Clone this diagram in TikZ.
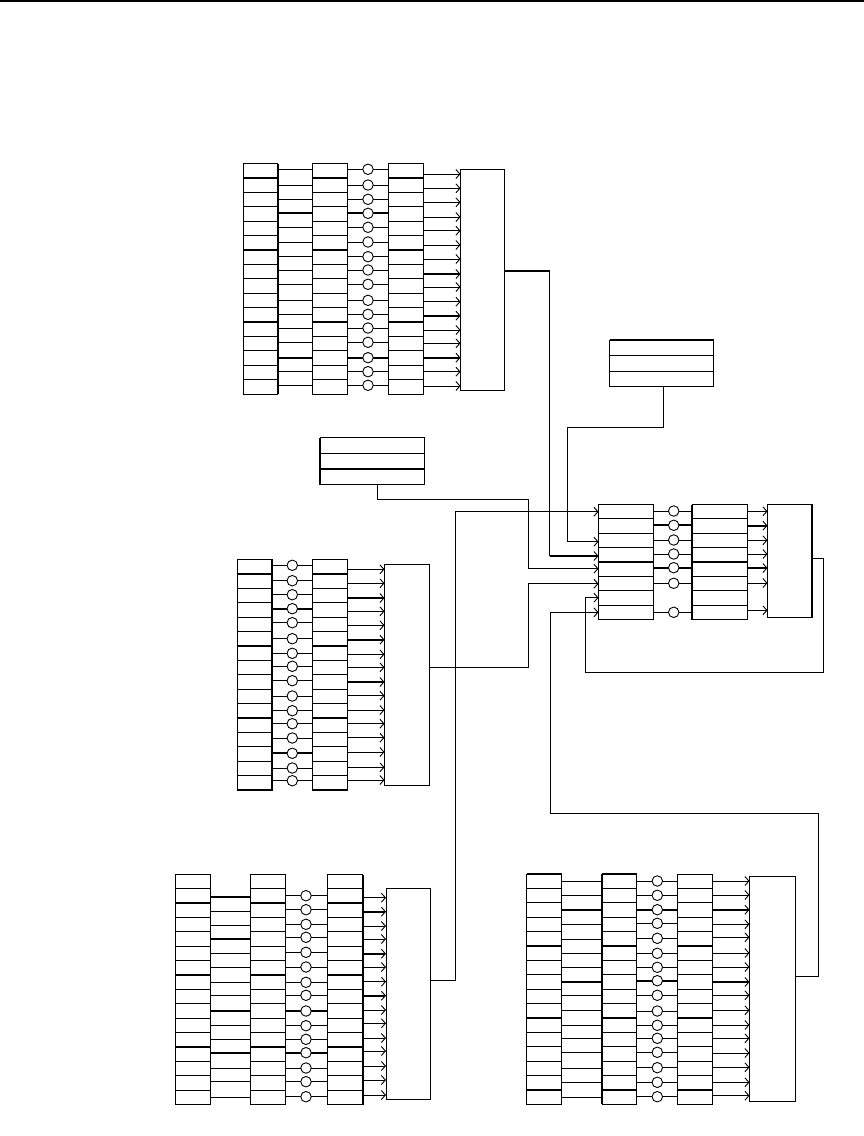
\documentclass[tikz,border=0pt]{standalone}
\usetikzlibrary{arrows.meta}
\tikzset{
  x=1pt,y=-1pt,
  thin line/.style={line width=0.9pt,black},
  heavy/.style={line width=2pt,black},
  colbox/.style={draw=black,fill=white,line width=0.9pt,inner sep=0pt,outer sep=0pt,rectangle},
  ring/.style={circle,draw=black,fill=white,line width=0.9pt,minimum size=10.5pt,inner sep=0pt},
  signal/.style={thin line,-{Straight Barb[length=4pt,width=9pt,line width=0.9pt]}},
  signalheavy/.style={heavy,-{Straight Barb[length=4pt,width=9pt,line width=0.9pt]}},
  wire/.style={thin line,line join=miter},
  wirearrow/.style={wire,-{Straight Barb[length=4pt,width=9pt,line width=0.9pt]}},
}
% name, x1, x2, y1, y2 : a rectangle as a named node with its corners at the given places
\newcommand\RectNode[5]{%
  \pgfmathsetmacro\bw{#3-#2}\pgfmathsetmacro\bh{#5-#4}%
  \pgfmathsetmacro\bx{(#2+#3)/2}\pgfmathsetmacro\by{(#4+#5)/2}%
  \node[colbox,minimum width=\bw pt,minimum height=\bh pt] (#1) at (\bx,\by) {};}
% name, x1, x2, y1, y2, thin dividers, heavy dividers
\newcommand\ColNode[7]{%
  \RectNode{#1}{#2}{#3}{#4}{#5}%
  \foreach \yy in {#6} {\draw[thin line] (#2,\yy) -- (#3,\yy);}%
  \foreach \yy in {#7} {\draw[heavy] (#2,\yy) -- (#3,\yy);}}
% x1, x2, thin rows, heavy rows
\newcommand\LinkRows[4]{%
  \foreach \yy in {#3} {\draw[thin line] (#1,\yy) -- (#2,\yy);}%
  \foreach \yy in {#4} {\draw[heavy] (#1,\yy) -- (#2,\yy);}}
% prefix, x, rows
\newcommand\RingRows[3]{%
  \foreach \yy [count=\ii] in {#3} {\node[ring] (#1\ii) at (#2,\yy) {};}}
% x1, x2, thin rows, heavy rows
\newcommand\ArrowRows[4]{%
  \foreach \yy in {#3} {\draw[signal] (#1,\yy) -- (#2,\yy);}%
  \foreach \yy in {#4} {\draw[signalheavy] (#1,\yy) -- (#2,\yy);}}
\begin{document}
\begin{tikzpicture}
\useasboundingbox (0,0) rectangle (864,1136);
\fill[white] (0,0) rectangle (864,1136);
\fill[black] (0,0) rectangle (864,2);

% ---- group 1 (top)
\ColNode{aA}{243.5}{277.5}{163.5}{394}{192.3,206.3,221.3,235.7,264.7,278.7,293.7,307.7,336.3,350.7,365.3,379.3}{178,250,322}
\draw[heavy] (277.5,163.5) -- (277.5,394);
\ColNode{aB}{312.5}{347.5}{163.5}{394}{192.3,206.3,221.3,235.7,264.7,278.7,293.7,307.7,336.3,350.7,365.3,379.3}{178,250,322}
\ColNode{aC}{388.5}{423.5}{163.5}{394}{192.3,206.3,221.3,235.7,264.7,278.7,293.7,307.7,336.3,350.7,365.3,379.3}{178,250,322}
\LinkRows{278}{312.5}{169.3,185,199.3,227.3,242,256.7,270,284.3,300.3,314.3,328,342.3,371.7,385.3}{213.3,357.7}
\LinkRows{347.5}{388.5}{169.3,185,199.3,227.3,242,256.7,270,284.3,300.3,314.3,328,342.3,371.7,385.3}{213.3,357.7}
\RingRows{ar}{368}{169.3,185,199.3,213.3,227.3,242,256.7,270,284.3,300.3,314.3,328,342.3,357.7,371.7,385.3}
\RectNode{aZ}{460.5}{504.5}{169.5}{390.5}
\ArrowRows{423.5}{460.5}{174,188.3,202.3,217,230.7,245,259,287,301.7,330,343.3,371.7,386}{274,315.7,357.7}

% ---- group 2 (middle left)
\ColNode{bA}{237.5}{272}{559.5}{790}{588.3,602.7,617.3,631.3,660.3,674.7,689.3,703.7,732.3,746.7,761.3,775.3}{574,646,718,790}
\draw[heavy] (272,559.5) -- (272,790);
\ColNode{bB}{312.5}{347.5}{559.5}{790}{588.3,602.7,617.3,631.3,660.3,674.7,689.3,703.7,732.3,746.7,761.3,775.3}{574,646,718,790}
\LinkRows{272}{312.5}{565.3,580.7,594.7,622.7,638.7,653.3,666.3,680.7,696,710.7,723.7,738,768,780.7}{608.7,753.3}
\RingRows{br}{292.3}{565.3,580.7,594.7,608.7,622.7,638.7,653.3,666.3,680.7,696,710.7,723.7,738,753.3,768,780.7}
\RectNode{bZ}{384.5}{429.5}{564.5}{785.5}
\ArrowRows{347.5}{384.5}{569.3,583.3,611.3,625.3,654.3,667.3,695.7,710,723.7,737.7,752,767.3,780}{598,639.7,682}

% ---- group 3 (bottom left)
\ColNode{cA}{175.5}{210.5}{874.5}{1104.5}{888.3,917.3,931.7,946.3,960.7,989.3,1003.3,1018,1032.7,1061.3,1075.3,1090.3}{903,975,1047}
\ColNode{cB}{250.5}{285.5}{874.5}{1104.5}{888.3,917.3,931.7,946.3,960.7,989.3,1003.3,1018,1032.7,1061.3,1075.3,1090.3}{903,975,1047}
\ColNode{cC}{327.5}{362.5}{874.5}{1104.5}{888.3,917.3,931.7,946.3,960.7,989.3,1003.3,1018,1032.7,1061.3,1075.3,1090.3}{903,975,1047}
\draw[heavy] (362.5,874.5) -- (362.5,1104.5);
\LinkRows{210.5}{250.5}{911.7,925.3,953.3,967.3,982.3,995.3,1025.3,1039.3,1068,1081.7,1097.3}{896.7,938.7,1010.7,1052.7}
\LinkRows{285.5}{327.5}{895.7,909.7,924.3,937.3,952.3,967,982.3,995.3,1025.7,1039.3,1068,1081.7,1096.7}{1011,1052.7}
\RingRows{cr}{306}{895.7,909.7,924.3,937.3,952.3,967,982.3,995.3,1011,1025.7,1039.3,1052.7,1068,1081.7,1096.7}
\RectNode{cZ}{386}{430.5}{888.5}{1099}
\ArrowRows{362.5}{386}{897.7,926,939,967,981.7,1010,1023.3,1038,1051,1066,1080,1095}{911.7,953.7,995.7}

% ---- group 4 (bottom right)
\ColNode{dA}{526.5}{561.5}{874}{1104}{888.3,902.7,917.3,931.7,960.3,974.7,989.3,1003.7,1032.3,1046.7,1061.3,1075.7}{874,946,1018,1090}
\ColNode{dB}{602}{636.5}{874}{1104}{888.3,902.7,917.3,931.7,960.3,974.7,989.3,1003.7,1032.3,1046.7,1061.3,1075.7}{874,946,1018,1090}
\draw[heavy] (602,874) -- (602,1104);
\ColNode{dC}{677.5}{712.5}{874}{1104}{888.3,902.7,917.3,931.7,960.3,974.7,989.3,1003.7,1032.3,1046.7,1061.3,1075.7}{946,1018,1090}
\LinkRows{561.5}{602}{881,895.3,924.3,939.3,953.3,967.3,995.3,1010.3,1025.3,1038.3,1052.3,1068.3,1082.3,1097.3}{909.7,982}
\LinkRows{636.5}{677.5}{881,895.3,923.3,938.3,953.3,967.3,995.3,1011,1025.3,1038.3,1052.3,1067.7,1082.3,1096.7}{909.7,980.7}
\RingRows{dr}{657.3}{881,895.3,909.7,923.3,938.3,953.3,967.3,980.7,995.3,1011,1025.3,1038.3,1052.3,1067.7,1082.3,1096.7}
\RectNode{dZ}{749.5}{795.5}{876.5}{1101.5}
\ArrowRows{712.5}{749.5}{881,895,924.3,937.3,953,967,995.3,1010.3,1025,1038.3,1053,1067.3,1082.3,1095.7}{909.7,982}

% ---- central group
\ColNode{eA}{598.5}{653.5}{504.5}{619.5}{518.3,533.3,547.3,576.3,590.3,605.3}{561.7}
\ColNode{eB}{692}{747.5}{504.5}{619.5}{518.3,533.3,547.3,576.3,590.3,605.3}{561.7}
\draw[heavy] (692,504.5) -- (692,619.5);
\LinkRows{653.5}{692}{511,540,554,583.3,612.3}{525.3,567.7}
\RingRows{er}{673.7}{511,525.3,540,554,567.7,583.3,612.3}
\RectNode{eZ}{767.5}{812}{504.5}{617.5}
\draw[heavy] (812,504.5) -- (812,617.5);
\ArrowRows{747.5}{767.5}{511.3,540.3,554,583,610.3}{525.7,568}

% ---- small tables
\ColNode{tA}{609.5}{713.5}{340}{386.5}{355.3,371.3}{340}
\ColNode{tB}{320}{424.5}{437.5}{484.5}{453.3}{469}
\draw[heavy] (320,437.5) -- (320,484.5);

% ---- connectors
\coordinate (aOut) at (504.5,271);
\coordinate (aIn) at (598.5,556);
\draw[wire] (549.5,271) -- (549.5,556);
\draw[heavy] (aOut) -- (549.5,271);
\draw[signalheavy] (549.5,556) -- (aIn);

\coordinate (tAOut) at (663.5,386.5);
\coordinate (tAIn) at (598.5,541.7);
\draw[wirearrow] (tAOut) -- (663.5,427.3) -- (567.7,427.3) -- (567.7,541.7) -- (tAIn);

\coordinate (tBOut) at (377.5,484.5);
\coordinate (tBIn) at (598.5,568.7);
\draw[wirearrow] (tBOut) -- (377.5,499.3) -- (528.5,499.3) -- (528.5,568.7) -- (tBIn);

\coordinate (bOut) at (429.5,667);
\coordinate (bIn) at (598.5,583.7);
\draw[wirearrow] (bOut) -- (528.5,667) -- (528.5,583.7) -- (bIn);

\coordinate (cOut) at (430.5,980.7);
\coordinate (cIn) at (598.5,511.7);
\draw[wirearrow] (cOut) -- (455,980.7) -- (455,511.7) -- (cIn);

\coordinate (dOut) at (795.5,976);
\coordinate (dIn) at (598.5,612.3);
\draw[wirearrow] (dOut) -- (818,976) -- (818,813) -- (550,813) -- (550,612.3) -- (dIn);

\coordinate (eOut) at (812,558.3);
\coordinate (eIn) at (598.5,597.7);
\draw[wirearrow] (eOut) -- (823.7,558.3) -- (823.7,672.3) -- (585.7,672.3) -- (585.7,597.7) -- (eIn);
\end{tikzpicture}
\end{document}
